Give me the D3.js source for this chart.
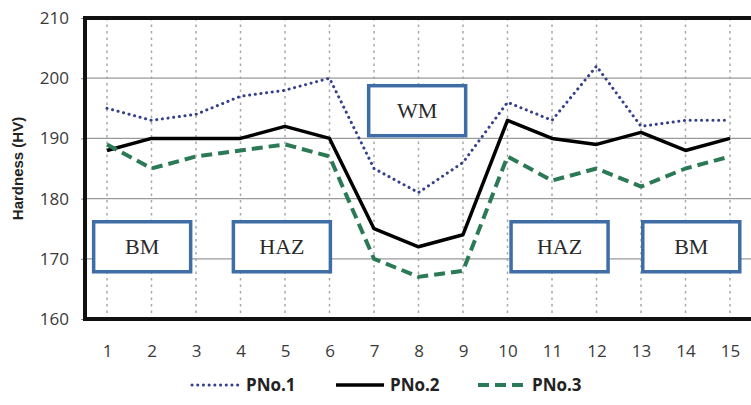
<!DOCTYPE html>
<html>
<head>
<style>
  body { margin: 0; background: #fff; }
  text { font-family: "Liberation Sans Narrow", "Open Sans", sans-serif; }
</style>
</head>
<body>

<script src="https://d3js.org/d3.v7.min.js"></script>
<script>

const width = 751;
const height = 405;

// hardness readings along the weld, points 1..15
const points = d3.range(1, 16);
const pno1 = [195, 193, 194, 197, 198, 200, 185, 181, 186, 196, 193, 202, 192, 193, 193];
const pno2 = [188, 190, 190, 190, 192, 190, 175, 172, 174, 193, 190, 189, 191, 188, 190];
const pno3 = [189, 185, 187, 188, 189, 187, 170, 167, 168, 187, 183, 185, 182, 185, 187];
const yTicks = [160, 170, 180, 190, 200, 210];

// zone labels, centred at (point, hardness)
const zones = [
  {text: 'BM',  at: 1.79,  hv: 172},
  {text: 'HAZ', at: 4.93,  hv: 172},
  {text: 'WM',  at: 7.97,  hv: 194.6},
  {text: 'HAZ', at: 11.17, hv: 172},
  {text: 'BM',  at: 14.13, hv: 172}
];

const series = [
  {name: 'PNo.1', values: pno1, color: '#34418a', width: 3,   dash: '0.1,5.6', cap: 'round'},
  {name: 'PNo.2', values: pno2, color: '#000',    width: 3.5, dash: null,      cap: 'butt'},
  {name: 'PNo.3', values: pno3, color: '#2b7a55', width: 4,   dash: '11,6',    cap: 'butt'}
];

const plotL = 85, plotR = 752, plotT = 18, plotB = 319;

const svg = d3.select('body')
              .append('svg')
              .attr('width', width)
              .attr('height', height);

const x = d3.scalePoint()
            .domain(points)
            .range([plotL + 22, plotR - 22]);

const y = d3.scaleLinear()
            .domain([160, 210])
            .range([plotB, plotT]);

// horizontal grid
svg.append('g')
   .selectAll('line')
   .data(yTicks.slice(1, -1))
   .enter()
   .append('line')
   .attr('x1', plotL).attr('x2', plotR)
   .attr('y1', d => y(d)).attr('y2', d => y(d))
   .attr('stroke', '#9a9a9a')
   .attr('stroke-width', 1.2);

// vertical dotted grid
svg.append('g')
   .selectAll('line')
   .data(points)
   .enter()
   .append('line')
   .attr('x1', d => x(d)).attr('x2', d => x(d))
   .attr('y1', y(210)).attr('y2', y(160))
   .attr('stroke', '#a8a8a8')
   .attr('stroke-width', 1.5)
   .attr('stroke-dasharray', '2.5,4');

// y axis labels
const yAxis = svg.append('g')
   .attr('transform', `translate(${plotL},0)`)
   .call(d3.axisLeft(y).tickValues(yTicks).tickSize(4).tickPadding(12));
yAxis.select('.domain').remove();
yAxis.selectAll('line').attr('stroke', '#888');
yAxis.selectAll('text')
     .attr('font-size', 17)
     .attr('fill', '#3a3a3a');

// x axis labels
const xAxis = svg.append('g')
   .attr('transform', `translate(0,${y(160)})`)
   .call(d3.axisBottom(x).tickSize(0).tickPadding(26));
xAxis.select('.domain').remove();
xAxis.selectAll('text')
     .attr('font-size', 17)
     .attr('fill', '#3a3a3a');

// frame
svg.append('path')
   .attr('d', `M${plotR},${y(210)}H${plotL}V${y(160)}H${plotR}`)
   .attr('fill', 'none')
   .attr('stroke', '#111')
   .attr('stroke-width', 4);

// series
const line = d3.line()
               .x((d, i) => x(points[i]))
               .y(d => y(d));

svg.append('g')
   .selectAll('path')
   .data(series)
   .enter()
   .append('path')
   .attr('d', d => line(d.values))
   .attr('fill', 'none')
   .attr('stroke', d => d.color)
   .attr('stroke-width', d => d.width)
   .attr('stroke-dasharray', d => d.dash)
   .attr('stroke-linecap', d => d.cap)
   .attr('stroke-linejoin', 'round');

// zone boxes
const zx = d3.scaleLinear().domain([1, 15]).range([x(1), x(15)]);
const boxW = 97, boxH = 50;
const zone = svg.append('g')
   .selectAll('g')
   .data(zones)
   .enter()
   .append('g')
   .attr('transform', d => `translate(${zx(d.at)},${y(d.hv)})`);
zone.append('rect')
    .attr('x', -boxW / 2).attr('y', -boxH / 2)
    .attr('width', boxW).attr('height', boxH)
    .attr('fill', '#fff')
    .attr('stroke', '#3f6ea6')
    .attr('stroke-width', 3.5);
zone.append('text')
    .attr('text-anchor', 'middle')
    .attr('dy', '0.35em')
    .attr('font-size', 22)
    .attr('fill', '#2a2a2a')
    .style('font-family', '"Liberation Serif", serif')
    .text(d => d.text);

// y title
svg.append('text')
   .attr('transform', `translate(23,${(y(210) + y(160)) / 2}) rotate(-90)`)
   .attr('text-anchor', 'middle')
   .attr('font-size', 15)
   .attr('font-weight', 'bold')
   .attr('fill', '#222')
   .style('font-family', '"Liberation Sans", sans-serif')
   .text('Hardness (HV)');

// legend
const legendX = [192, 336, 478];
const legend = svg.append('g')
   .selectAll('g')
   .data(series)
   .enter()
   .append('g')
   .attr('transform', (d, i) => `translate(${legendX[i]},385)`);
legend.append('line')
      .attr('x1', 0).attr('x2', 48)
      .attr('stroke', d => d.color)
      .attr('stroke-width', d => d.width)
      .attr('stroke-dasharray', d => d.dash)
      .attr('stroke-linecap', d => d.cap);
legend.append('text')
      .attr('x', 54)
      .attr('dy', '0.35em')
      .attr('font-size', 17)
      .attr('font-weight', 'bold')
      .attr('fill', '#222')
      .text(d => d.name);

</script>
</body>
</html>
